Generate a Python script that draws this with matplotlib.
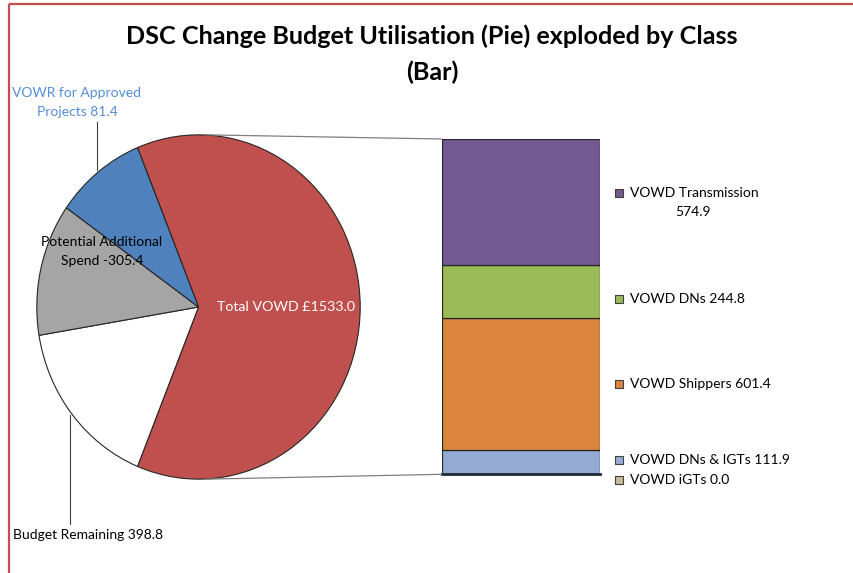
import matplotlib
matplotlib.use('Agg')
import matplotlib.pyplot as plt
from matplotlib.patches import Rectangle, ConnectionPatch

# ---------------- data ----------------
title = "DSC Change Budget Utilisation (Pie) exploded by Class\n(Bar)"

pie_names = ["Total VOWD", "Budget Remaining", "Potential Additional Spend",
             "VOWR for Approved Projects"]
pie_label_values = [1533.0, 398.8, -305.4, 81.4]      # as printed in labels
pie_slice_sizes = [1533.0, 398.8, 305.4, 223.0]       # as drawn in the pie
pie_colors = ["#C0504D", "#FFFFFF", "#A5A5A5", "#4F81BD"]

bar_names = ["VOWD iGTs", "VOWD DNs & IGTs", "VOWD Shippers", "VOWD DNs",
             "VOWD Transmission"]
bar_values = [0.0, 111.9, 601.4, 244.8, 574.9]
bar_colors = ["#C4BD97", "#95ABD3", "#DB843D", "#9BBB59", "#725990"]

# ---------------- layout helpers ----------------
W, H = 854, 573
FONT = "Lato"
plt.rcParams['font.family'] = [FONT, 'DejaVu Sans']

fig = plt.figure(figsize=(W / 100, H / 100), dpi=100)
fig.patch.set_facecolor("white")


def box(x0, y0, x1, y1):
    return [x0 / W, 1 - y1 / H, (x1 - x0) / W, (y1 - y0) / H]


# overlay axes in pixel coordinates for labels / decorations
ov = fig.add_axes([0, 0, 1, 1])
ov.set_xlim(0, W)
ov.set_ylim(H, 0)
ov.axis("off")
ov.set_zorder(5)
ov.patch.set_alpha(0)

# ---------------- pie ----------------
ax_pie = fig.add_axes(box(36, 134, 361, 480))
total = sum(pie_slice_sizes)
start = 180.0 * pie_slice_sizes[0] / total
ax_pie.pie(pie_slice_sizes, colors=pie_colors, startangle=start,
           counterclock=False, radius=1.0,
           wedgeprops=dict(edgecolor="#262626", linewidth=0.8))
ax_pie.set_aspect("auto")
ax_pie.set_xlim(-1.005, 1.005)
ax_pie.set_ylim(-1.005, 1.005)
ax_pie.axis("off")

ax_pie.text(0.54, 0.0, f"{pie_names[0]} £{pie_label_values[0]:.1f}",
            color="white", fontsize=10.2, ha="center", va="center")

# ---------------- bar ----------------
ax_bar = fig.add_axes(box(441.7, 139, 600, 474.3))
bottom = 0.0
for v, c in zip(bar_values, bar_colors):
    ax_bar.bar(0, v, bottom=bottom, width=1.0, color=c,
               edgecolor="#262626", linewidth=0.9)
    bottom += v
bar_total = bottom
ax_bar.set_xlim(-0.5, 0.5)
ax_bar.set_ylim(0, bar_total)
ax_bar.axis("off")
ax_bar.axhline(0, color="#1F2A3A", linewidth=2.0, clip_on=False)

# connector lines
for yp, yb in [(1.0, bar_total), (-1.0, 0.0)]:
    con = ConnectionPatch(xyA=(0.05, yp), coordsA=ax_pie.transData,
                          xyB=(-0.5, yb), coordsB=ax_bar.transData,
                          color="#7F7F7F", linewidth=0.9)
    fig.add_artist(con)

# ---------------- title ----------------
ov.text(432, 36, title.split("\n")[0], fontsize=18.1, fontweight="bold",
        ha="center", va="center", color="black")
ov.text(432, 72, title.split("\n")[1], fontsize=18.1, fontweight="bold",
        ha="center", va="center", color="black")

# ---------------- pie labels ----------------
ov.text(77, 93, "VOWR for Approved", color="#558ED5", fontsize=10,
        ha="center", va="center")
ov.text(77, 112, f"Projects {pie_label_values[3]:.1f}", color="#558ED5",
        fontsize=10, ha="center", va="center")
ov.plot([97, 97], [122, 170], color="#404040", linewidth=0.8)

ov.text(102, 242, "Potential Additional", color="black", fontsize=10,
        ha="center", va="center")
ov.text(102, 261, f"Spend {pie_label_values[2]:.1f}", color="black",
        fontsize=10, ha="center", va="center")

ov.text(13, 535, f"{pie_names[1]} {pie_label_values[1]:.1f}", color="black",
        fontsize=10, ha="left", va="center")
ov.plot([70.5, 70.5], [415, 524], color="#404040", linewidth=0.8)

# ---------------- legend ----------------
leg_y = [480, 460, 384, 299, 193]
for name, v, c, y in zip(bar_names, bar_values, bar_colors, leg_y):
    ov.add_patch(Rectangle((615, y - 4.5), 8.5, 8.5, facecolor=c,
                           edgecolor="#404040", linewidth=0.8))
    if name == "VOWD Transmission":
        ov.text(630, y, name, fontsize=10, ha="left", va="center")
        ov.text(693, y + 19, f"{v:.1f}", fontsize=10, ha="center", va="center")
    else:
        ov.text(630, y, f"{name} {v:.1f}", fontsize=10, ha="left", va="center")

# ---------------- border ----------------
ov.plot([9, W], [3.5, 3.5], color="#C0504D", linewidth=1.6, solid_capstyle="butt")
ov.plot([9, 9], [3.5, H], color="#C0504D", linewidth=1.6, solid_capstyle="butt")

fig.savefig("out.png", dpi=100, facecolor="white")
